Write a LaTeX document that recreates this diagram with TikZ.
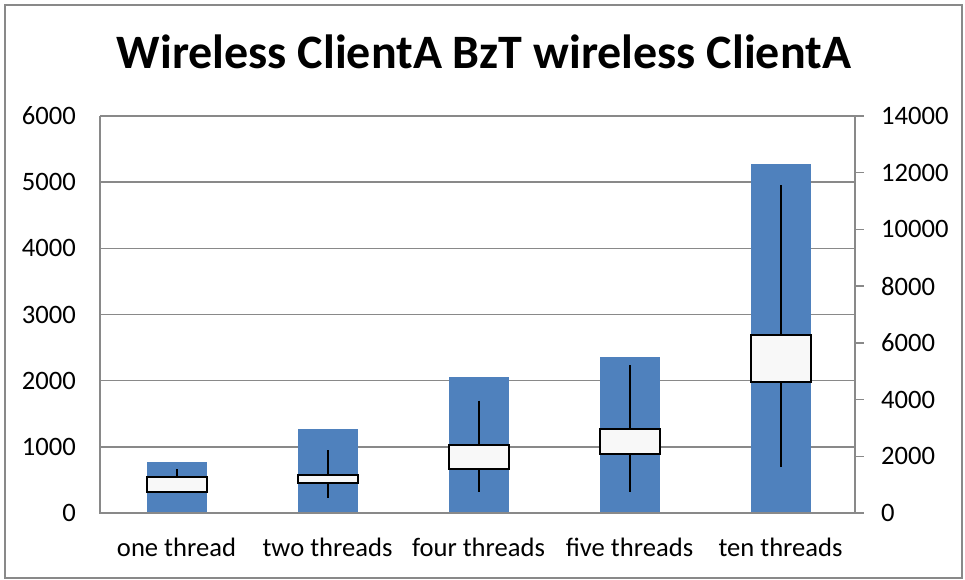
\documentclass[tikz,border=0pt]{standalone}
\usepackage{fontspec}
\setmainfont{Carlito}
\definecolor{barblue}{HTML}{4F81BD}
\definecolor{gridgray}{HTML}{898989}
\definecolor{boxfill}{HTML}{F8F8F8}
\begin{document}
\begin{tikzpicture}[x=1pt,y=-1pt,
  gridline/.style={draw=gridgray,line width=1.5pt},
  bar/.style={fill=barblue},
  whisker/.style={draw=black,line width=2pt},
  boxst/.style={draw=black,fill=boxfill,line width=2pt},
  lbl/.style={font=\fontsize{26.6}{30}\selectfont,inner sep=0pt},
  ttl/.style={font=\fontsize{48}{54}\selectfont\bfseries,inner sep=0pt}]
\useasboundingbox (0,0) rectangle (965,580);
\draw[draw=gridgray,line width=1.5pt] (5,5) rectangle (962,578);
% gridlines
\foreach \k in {0,...,5} {
  \draw[gridline] (100,{116+66.1667*\k}) -- (855,{116+66.1667*\k});
}
% right axis ticks
\foreach \k in {0,...,7} {
  \draw[gridline] (855,{116+56.714*\k}) -- (864,{116+56.714*\k});
}
% bars
\foreach \c/\t in {176.5/461.7,327.5/429,478.5/377.3,629.5/357,780.5/164.3} {
  \fill[bar] (\c-30,\t) rectangle (\c+30,513);
}
% axes
\draw[gridline] (100,116) -- (100,513) -- (855,513) -- (855,116);
% whiskers and boxes
\foreach \c/\wt/\wb/\bt/\bb in {176.5/469/492.7/477.3/491.7,327.5/450/497.7/475/483.3,478.5/400.7/492.3/445/469,629.5/365/491.7/428.7/454.3,780.5/185/466.7/335/381.7} {
  \draw[whisker] (\c,\wt) -- (\c,\wb);
  \draw[boxst] (\c-30,\bt) rectangle (\c+30,\bb);
}
% title
\node[ttl,anchor=base] (title) at (484,68.5) {Wireless ClientA BzT wireless ClientA};
% left axis labels
\foreach \v [count=\i from 0] in {0,1000,2000,3000,4000,5000,6000} {
  \node[lbl,anchor=east] (l\i) at (76,{513-66.1667*\i}) {\v};
}
% right axis labels
\foreach \v [count=\i from 0] in {0,2000,4000,6000,8000,10000,12000,14000} {
  \node[lbl,anchor=west] (r\i) at (881,{513-56.714*\i}) {\v};
}
% category labels
\node[lbl,anchor=base] (c1) at (176.5,556.7) {one thread};
\node[lbl,anchor=base] (c2) at (327.5,556.7) {two threads};
\node[lbl,anchor=base] (c3) at (478.5,556.7) {four threads};
\node[lbl,anchor=base] (c4) at (629.5,556.7) {five threads};
\node[lbl,anchor=base] (c5) at (780.5,556.7) {ten threads};
\end{tikzpicture}
\end{document}
